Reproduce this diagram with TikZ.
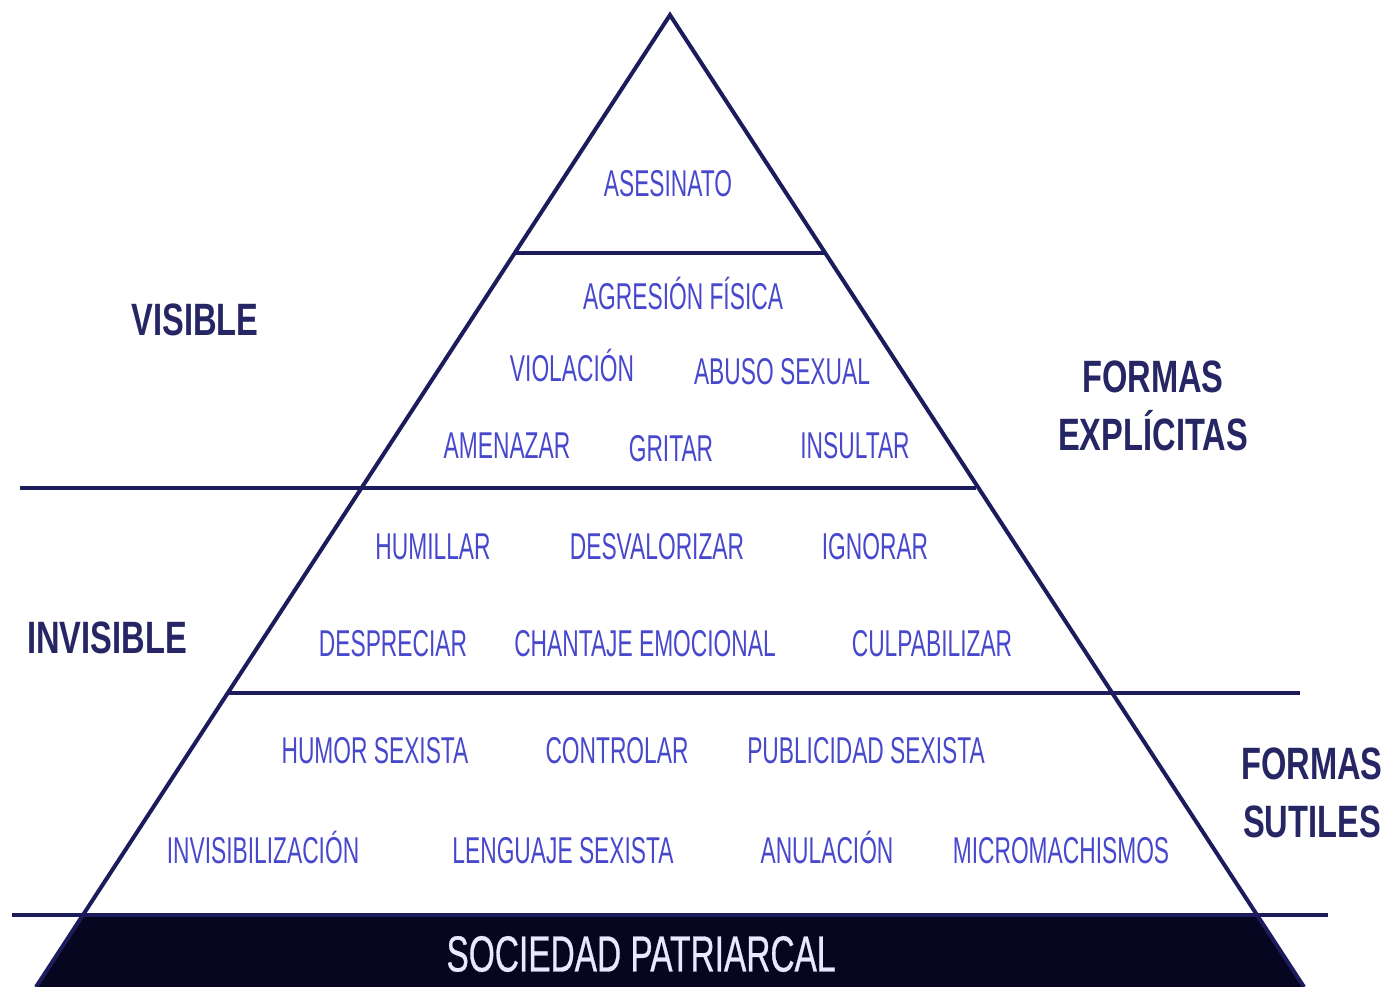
\documentclass[tikz,border=0pt]{standalone}
\usepackage{fontspec}
\setmainfont{Liberation Sans}
\newfontfamily\condfont[FakeStretch=0.61]{Liberation Sans}
\newfontfamily\condbold[FakeStretch=0.72]{Liberation Sans Bold}
\newfontfamily\bandfont[FakeStretch=0.66,FakeBold=0.6]{Liberation Sans}
\definecolor{navy}{RGB}{28,28,92}
\definecolor{itemblue}{RGB}{72,72,205}
\definecolor{labelnavy}{RGB}{38,38,100}
\definecolor{bandcol}{RGB}{6,6,32}
\definecolor{bandtext}{RGB}{232,232,255}
\begin{document}
\begin{tikzpicture}[x=0.75pt,y=-0.75pt,
  edge/.style={draw=navy,line width=3pt},
  item/.style={text=itemblue,font=\condfont\fontsize{28}{30}\selectfont,inner sep=0pt,anchor=center,text height=20pt,text depth=0pt},
  side/.style={text=labelnavy,font=\condbold\fontsize{34}{43}\selectfont,inner sep=0pt,align=center,anchor=center}]
\useasboundingbox (0,0) rectangle (1388,987);
\fill[white] (0,0) rectangle (1388,987);
% pyramid geometry
\coordinate (apex) at (670,15);
\coordinate (bl) at (36,987);
\coordinate (br) at (1304,987);
\coordinate (l1) at (515,253);  \coordinate (r1) at (825,253);
\coordinate (l4) at (83,915);   \coordinate (r4) at (1257,915);
% black band
\fill[bandcol] (l4) -- (r4) -- (br) -- (bl) -- cycle;
% sides
\draw[edge] (bl) -- (apex) -- (br);
% horizontal levels
\draw[edge] (l1) -- (r1);
\coordinate (h2a) at (20,488);  \coordinate (h2b) at (976,488);
\coordinate (h3a) at (228,693); \coordinate (h3b) at (1300,693);
\coordinate (h4a) at (12,915);  \coordinate (h4b) at (1328,915);
\draw[edge] (h2a) -- (h2b);
\draw[edge] (h3a) -- (h3b);
\draw[edge] (h4a) -- (h4b);
% items
\node[item] (asesinato) at (668,183) {ASESINATO};
\node[item] (agresion) at (683,296) {AGRESIÓN FÍSICA};
\node[item] (violacion) at (572,368) {VIOLACIÓN};
\node[item] (abuso) at (782,371) {ABUSO SEXUAL};
\node[item] (amenazar) at (507,445) {AMENAZAR};
\node[item] (gritar) at (671,448) {GRITAR};
\node[item] (insultar) at (855,445) {INSULTAR};
\node[item] (humillar) at (433,546) {HUMILLAR};
\node[item] (desvalorizar) at (657,546) {DESVALORIZAR};
\node[item] (ignorar) at (875,546) {IGNORAR};
\node[item] (despreciar) at (393,643) {DESPRECIAR};
\node[item] (chantaje) at (645,643) {CHANTAJE EMOCIONAL};
\node[item] (culpabilizar) at (932,643) {CULPABILIZAR};
\node[item] (humor) at (375,750) {HUMOR SEXISTA};
\node[item] (controlar) at (617,750) {CONTROLAR};
\node[item] (publicidad) at (866,750) {PUBLICIDAD SEXISTA};
\node[item] (invisib) at (263,850) {INVISIBILIZACIÓN};
\node[item] (lenguaje) at (563,850) {LENGUAJE SEXISTA};
\node[item] (anulacion) at (827,850) {ANULACIÓN};
\node[item] (micro) at (1061,850) {MICROMACHISMOS};
% side labels
\node[side] (visible) at (195,320) {VISIBLE};
\node[side] (invisible) at (107,638) {INVISIBLE};
\node[side] (explicitas) at (1153,406) {FORMAS\\EXPLÍCITAS};
\node[side] (sutiles) at (1312,793) {FORMAS\\SUTILES};
% band text
\node[text=bandtext,font=\bandfont\fontsize{38}{40}\selectfont,inner sep=0pt] (sociedad) at (641,954) {SOCIEDAD PATRIARCAL};
\end{tikzpicture}
\end{document}
